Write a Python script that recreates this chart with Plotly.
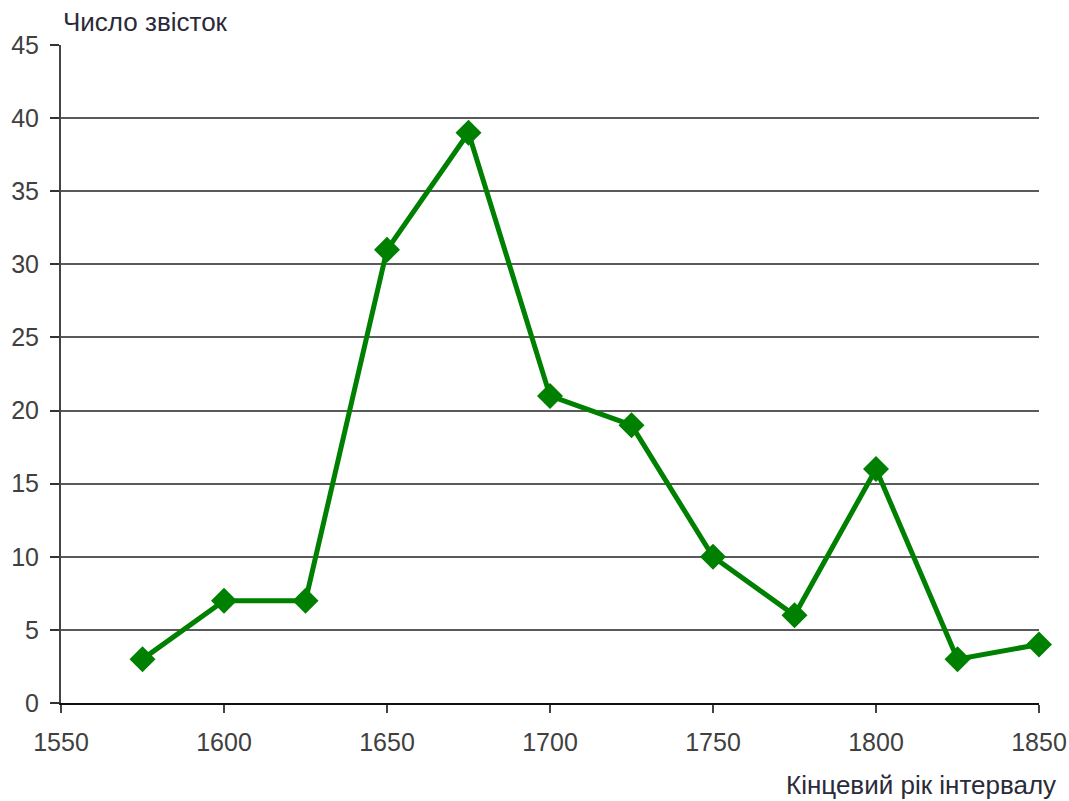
import plotly.graph_objects as go

years = [1575, 1600, 1625, 1650, 1675, 1700, 1725, 1750, 1775, 1800, 1825, 1850]
counts = [3, 7, 7, 31, 39, 21, 19, 10, 6, 16, 3, 4]
x_ticks = [1550, 1600, 1650, 1700, 1750, 1800, 1850]
y_ticks = [0, 5, 10, 15, 20, 25, 30, 35, 40, 45]
y_title = "Число звісток"
x_title = "Кінцевий рік інтервалу"

fig = go.Figure()
fig.add_trace(go.Scatter(
    x=years, y=counts, mode="lines+markers",
    line=dict(color="#008000", width=5),
    marker=dict(symbol="diamond", size=20, color="#008000"),
    cliponaxis=False, showlegend=False,
))

tick_font = dict(family="Liberation Sans, Arial, sans-serif", size=25, color="#404040")
title_font = dict(family="Liberation Sans, Arial, sans-serif", size=26, color="#2a2a3a")

fig.update_layout(
    width=1069, height=801,
    margin=dict(l=61, r=30, t=45, b=98, autoexpand=False),
    plot_bgcolor="white", paper_bgcolor="white",
    font=tick_font,
    xaxis=dict(
        range=[1550, 1850], tickvals=x_ticks, showgrid=False,
        showline=True, linecolor="#111111", linewidth=2,
        ticks="outside", ticklen=8, tickwidth=2, tickcolor="#444444",
        tickfont=tick_font, zeroline=False, ticklabelstandoff=8,
    ),
    yaxis=dict(
        range=[0, 45], tickvals=y_ticks, showgrid=True,
        gridcolor="#5a5a5a", gridwidth=2,
        showline=True, linecolor="#444444", linewidth=2,
        ticks="outside", ticklen=9, tickwidth=2, tickcolor="#333333",
        tickfont=tick_font, zeroline=False, ticklabelstandoff=6,
    ),
    annotations=[
        dict(text=y_title, xref="paper", yref="paper", x=0.0, y=1.0,
             xanchor="left", yanchor="middle", yshift=23, showarrow=False,
             font=title_font),
        dict(text=x_title, xref="paper", yref="paper", x=1.0, y=0.0,
             xanchor="right", yanchor="middle", xshift=19, yshift=-82, showarrow=False,
             font=title_font),
    ],
)

fig.write_html(
    "out.html",
    config={"displayModeBar": False},
    post_script="document.body.style.margin='0';document.body.style.overflow='hidden';",
)
